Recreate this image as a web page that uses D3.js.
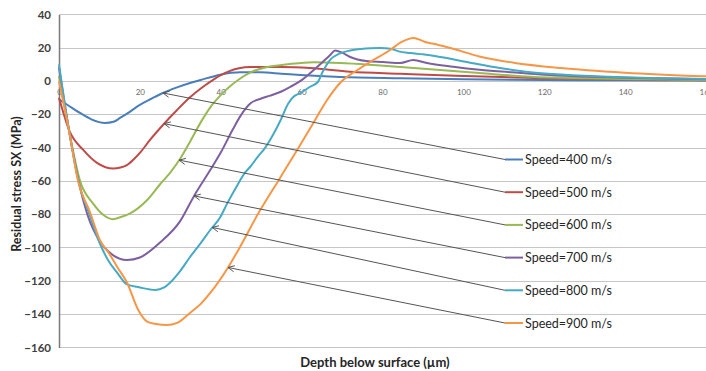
<!DOCTYPE html>
<html>
<head>
<meta charset="utf-8">
<script src="https://cdn.jsdelivr.net/npm/d3@7"></script>
<style>
  html, body { margin: 0; padding: 0; background: #fff; }
  svg { display: block; font-family: Lato, "Open Sans", "Liberation Sans", sans-serif; }
</style>
</head>
<body>
<svg id="chart" width="706" height="371"></svg>
<script>
// Depth (µm) / residual stress (MPa) pairs for each impact speed
const speed400 = [[0,-11],[2.5,-15],[5.2,-19.2],[8,-23],[11.4,-25.2],[13.5,-24.5],[15.1,-22.2],[17.5,-18.5],[20,-14.4],[23,-10.5],[25.7,-7.2],[29,-4],[32.4,-1.2],[35,0.6],[39.9,3.8],[44.8,5.2],[49.8,5.2],[55,4.4],[59.7,3.6],[69.5,2.4],[84.4,1.6],[100,1],[120,0.6],[140,0.4],[160,0.3]];
const speed500 = [[0,-10],[2.7,-30.6],[6,-41.4],[9.4,-49.2],[11.5,-51.8],[13.4,-52.6],[15.2,-52],[16.8,-50.5],[18.5,-47],[20,-43.2],[22.5,-35.4],[25.7,-26.4],[29.2,-17.4],[32.4,-9.8],[34.9,-4.8],[36.6,-1.8],[39.9,3.4],[42,5.8],[44.5,7.6],[47.3,8.4],[54.7,8.4],[62.1,7.8],[72,5.6],[84.4,4.4],[100,3],[120,1.6],[140,1],[160,0.5]];
const speed600 = [[0,3],[2.5,-30],[5.2,-60],[8.4,-73.5],[11,-80.5],[13.3,-83],[15.5,-81.5],[17.6,-79.5],[21.8,-71.5],[25,-62],[27.5,-55],[30,-46.5],[32.5,-36],[35,-25],[37.5,-15.5],[40,-8.5],[42.3,-3.2],[45,1.8],[47.5,5.3],[51.5,8.4],[55,9.6],[60,10.8],[63,11.2],[69.5,10.8],[77.7,9.6],[84.4,8.4],[94.3,6.6],[104,4.8],[116.6,2.6],[130,1.6],[145,1],[160,0.6]];
const speed700 = [[0,8],[2.5,-30],[5,-62],[7,-80],[10,-96],[13,-104],[16.8,-107.5],[20,-106],[25,-97],[30,-84],[33.4,-69],[37.4,-53.5],[40,-43],[43,-29],[45,-20.5],[47.3,-13.5],[50,-10.5],[52.2,-8.8],[55,-6.3],[57.2,-3.5],[60,0.5],[62,4.5],[64.6,10],[67,15.5],[68.3,18.3],[70,17],[72,14.4],[76,12],[80.2,11.4],[84.4,10.8],[87.6,12.6],[91,10.8],[97.5,8.6],[104,6.8],[112,5.2],[120,3.8],[140,2],[160,1]];
const speed800 = [[0,10],[2.5,-30],[5,-62],[7.5,-80],[10,-97],[12,-107],[14.5,-115.5],[16.7,-122],[20,-124],[23.8,-125.5],[26,-124],[27.5,-121],[30,-114],[32.4,-105.7],[35,-97.5],[37.4,-89.5],[39.9,-81.7],[41.6,-73.5],[44,-63],[46,-55],[47.3,-51.5],[49,-46],[51,-40],[53,-32],[54.7,-24],[56.7,-13.5],[58,-9.5],[59.7,-7.2],[62,-3.6],[64,-0.6],[65.3,6],[67,12.6],[69.5,16.6],[72,18.3],[74.5,19.2],[77,19.7],[79.5,19.8],[82,19.4],[84,17.8],[86.9,16.8],[90,16],[94.3,14.4],[101.7,11],[109,7.8],[116.6,5.2],[125,3.8],[140,2.2],[160,1.2]];
const speed900 = [[0,0],[2.5,-30],[4.7,-60],[7.7,-79],[10.1,-95.5],[12.5,-104],[14.4,-111.7],[16.8,-121],[19.6,-137.5],[21.8,-144.5],[24,-146],[26.7,-146.6],[29.2,-145.3],[32.4,-139.3],[35,-134],[37.4,-127.3],[41.8,-112],[44.8,-99.5],[49.3,-79.5],[54.2,-60],[58.9,-41.4],[62.9,-25.2],[66.3,-11.4],[69.5,-1.2],[73.8,6.6],[77.7,12.6],[81.9,18.6],[84.4,23],[86.5,25.3],[87.6,25.8],[89,25],[90.5,23.4],[92.6,22.4],[96.8,19.8],[104.2,14.6],[112.4,11],[124,7.8],[140,5],[160,2.8]];

const seriesNames = ["Speed=400 m/s","Speed=500 m/s","Speed=600 m/s","Speed=700 m/s","Speed=800 m/s","Speed=900 m/s"];
const seriesValues = [speed400, speed500, speed600, speed700, speed800, speed900];
const seriesColors = ["#4a7ebb","#be4b48","#98b954","#7d60a0","#46aac5","#f79646"];
// Depth at which each label's leader arrow touches its curve
const arrowDepths = [25.7, 26, 29.7, 33.4, 37.9, 41.8];

const xTicks = [0,20,40,60,80,100,120,140,160];
const yTicks = [40,20,0,-20,-40,-60,-80,-100,-120,-140,-160];

const svg = d3.select("#chart");
const x = d3.scaleLinear().domain([0,160]).range([59,706]);
const y = d3.scaleLinear().domain([-160,40]).range([347.4,14.4]);

// horizontal gridlines
svg.append("g").selectAll("line").data(yTicks).join("line")
  .attr("x1", x(0)).attr("x2", 706)
  .attr("y1", d => Math.round(y(d)) + 0.5).attr("y2", d => Math.round(y(d)) + 0.5)
  .attr("stroke", "#c6c6c6").attr("stroke-width", 1.2);

// y axis
const yAxis = svg.append("g").attr("transform", `translate(${x(0)},0)`)
  .call(d3.axisLeft(y).tickValues(yTicks).tickSize(0).tickPadding(8));
yAxis.select(".domain").attr("stroke", "#7a7a7a").attr("stroke-width", 1.5);
yAxis.selectAll("text").attr("font-size", 11.5).attr("font-weight", "bold")
  .attr("fill", "#404040").attr("font-family", "Lato, sans-serif");

// x axis labels sit just under the zero line
const xAxis = svg.append("g").attr("transform", `translate(0,${y(0)})`)
  .call(d3.axisBottom(x).tickValues(xTicks).tickSize(0).tickPadding(8));
xAxis.select(".domain").remove();
xAxis.selectAll("text").attr("font-size", 8).attr("fill", "#6a6a6a")
  .attr("font-family", "Lato, sans-serif");

// stress profiles
const line = d3.line().x(d => x(d[0])).y(d => y(d[1])).curve(d3.curveMonotoneX);
svg.append("g").selectAll("path").data(seriesValues).join("path")
  .attr("d", line).attr("fill", "none")
  .attr("stroke", (d, i) => seriesColors[i]).attr("stroke-width", 2)
  .attr("stroke-linejoin", "round");

// value of a series at a given depth
function valueAt(series, depth) {
  const i = d3.bisector(d => d[0]).right(series, depth);
  const a = series[Math.max(0, i - 1)], b = series[Math.min(series.length - 1, i)];
  if (a === b) return a[1];
  const t = (depth - a[0]) / (b[0] - a[0]);
  return a[1] + t * (b[1] - a[1]);
}

// legend with leader arrows
const legendY = d3.scaleLinear().domain([0,5]).range([159.5, 323]);
const legendX = 505;
seriesNames.forEach((name, i) => {
  const ly = legendY(i);
  const tx = x(arrowDepths[i]), ty = y(valueAt(seriesValues[i], arrowDepths[i]));
  svg.append("line").attr("x1", legendX).attr("y1", ly).attr("x2", tx).attr("y2", ty)
    .attr("stroke", "#555").attr("stroke-width", 1);
  const ang = Math.atan2(ly - ty, legendX - tx);
  const len = 7, spread = 0.45;
  svg.append("path")
    .attr("d", `M${tx + len*Math.cos(ang - spread)},${ty + len*Math.sin(ang - spread)}L${tx},${ty}L${tx + len*Math.cos(ang + spread)},${ty + len*Math.sin(ang + spread)}`)
    .attr("fill", "none").attr("stroke", "#555").attr("stroke-width", 1);
  svg.append("line").attr("x1", legendX).attr("x2", legendX + 18)
    .attr("y1", ly).attr("y2", ly).attr("stroke", seriesColors[i]).attr("stroke-width", 2);
  svg.append("text").attr("x", legendX + 20).attr("y", ly + 4.5)
    .attr("font-size", 12.5).attr("fill", "#262626").text(name);
});

// axis titles
svg.append("text").attr("transform", "translate(21,184) rotate(-90)")
  .attr("text-anchor", "middle").attr("font-size", 12.5).attr("font-weight", "bold")
  .attr("fill", "#262626").text("Residual stress SX (MPa)");
svg.append("text").attr("x", 375).attr("y", 367)
  .attr("text-anchor", "middle").attr("font-size", 13).attr("font-weight", "bold")
  .attr("fill", "#262626").text("Depth below surface  (µm)");
</script>
</body>
</html>
